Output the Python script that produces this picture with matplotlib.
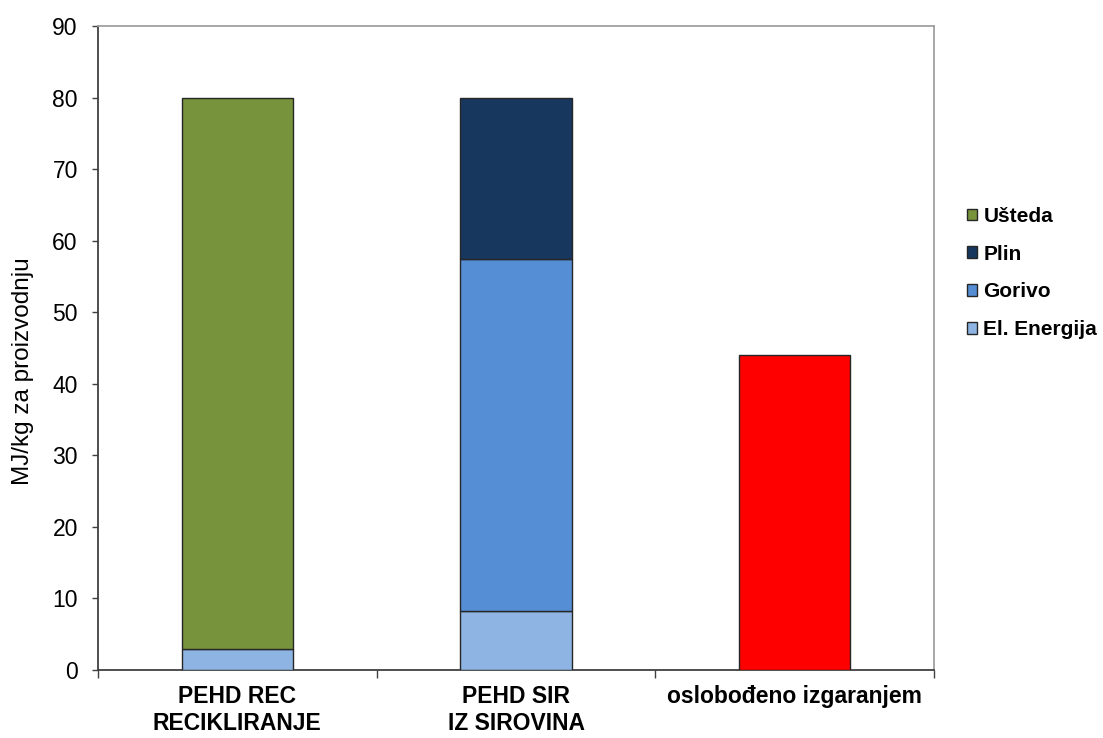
import matplotlib
matplotlib.use("Agg")
import matplotlib.pyplot as plt
import numpy as np
from matplotlib.patches import Patch

plt.rcParams['font.family'] = ['Liberation Sans', 'DejaVu Sans']

categories = ["PEHD REC\nRECIKLIRANJE", "PEHD SIR\nIZ SIROVINA", "oslobođeno izgaranjem"]
el_energija = [3.0, 8.2, 0.0]
gorivo = [0.0, 49.3, 0.0]
plin = [0.0, 22.5, 0.0]
usteda = [77.0, 0.0, 0.0]
oslobodeno = [0.0, 0.0, 44.0]
yticks = [0, 10, 20, 30, 40, 50, 60, 70, 80, 90]

c_el = "#8EB4E3"
c_gor = "#558ED5"
c_plin = "#17375E"
c_ust = "#77933C"
c_red = "#FF0000"
edge = "#262626"

fig = plt.figure(figsize=(11.03, 7.38), dpi=100)
ax = fig.add_axes([98/1103, 68/738, (934-98)/1103, (670-26)/738])

x = np.arange(len(categories))
w = 0.4
el = np.array(el_energija); go = np.array(gorivo); pl = np.array(plin); us = np.array(usteda)
ox = np.array(oslobodeno)

def draw(vals, bottom, color):
    for i in range(len(vals)):
        if vals[i] > 0:
            ax.bar(x[i], vals[i], w, bottom=bottom[i], color=color, edgecolor=edge, linewidth=1.0, zorder=3)

zero = np.zeros(len(x))
draw(el, zero, c_el)
draw(go, el, c_gor)
draw(pl, el + go, c_plin)
draw(us, el + go + pl, c_ust)
draw(ox, zero, c_red)

ax.set_xlim(-0.5, 2.5)
ax.set_ylim(0, 90)
ax.set_yticks(yticks)
ax.set_yticklabels([str(t) for t in yticks], fontsize=16.5)
ax.set_xticks([-0.5, 0.5, 1.5, 2.5])
ax.set_xticklabels([])
ax.set_xticks(x, minor=True)
ax.set_xticklabels(categories, minor=True, fontsize=16.5, fontweight='bold', linespacing=1.2)
ax.tick_params(axis='x', which='minor', length=0, pad=11)
ax.tick_params(axis='x', which='major', length=6, direction='out', color='#404040', width=1.0)
ax.tick_params(axis='y', length=4.5, direction='out', color='#404040', width=1.0, pad=10)

fig.text(23/1103, 1 - 371/738, "MJ/kg za proizvodnju", rotation=90, fontsize=17.5,
         ha='center', va='center')

for s in ['left', 'bottom']:
    ax.spines[s].set_color('#404040')
    ax.spines[s].set_linewidth(1.3)
for s in ['top', 'right']:
    ax.spines[s].set_color('#A0A0A0')
    ax.spines[s].set_linewidth(1.3)

handles = [Patch(facecolor=c_ust, edgecolor=edge, label="Ušteda"),
           Patch(facecolor=c_plin, edgecolor=edge, label="Plin"),
           Patch(facecolor=c_gor, edgecolor=edge, label="Gorivo"),
           Patch(facecolor=c_el, edgecolor=edge, label="El. Energija")]
leg = fig.legend(handles=handles, loc='center left', bbox_to_anchor=(948/1103, 1 - 273/738),
                 frameon=False, handlelength=0.5, handleheight=0.5, handletextpad=0.3,
                 labelspacing=0.9, prop={'weight': 'bold', 'size': 15})

fig.savefig("out.png", dpi=100)
